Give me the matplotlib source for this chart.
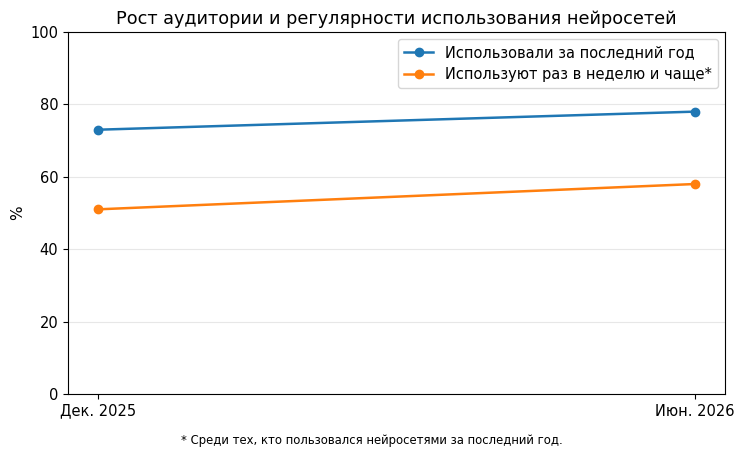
import matplotlib
matplotlib.use("Agg")
import matplotlib.pyplot as plt

plt.rcParams["font.family"] = ["DejaVu Sans"]

periods = ["Дек. 2025", "Июн. 2026"]
used_year = [73, 78]
used_weekly = [51, 58]

fig = plt.figure(figsize=(7.44, 4.57), dpi=100)
ax = fig.add_axes([0.0914, 0.138, 0.883, 0.792])

x = range(len(periods))
ax.plot(x, used_year, marker="o", color="#1f77b4", linewidth=1.8, label="Использовали за последний год")
ax.plot(x, used_weekly, marker="o", color="#ff7f0e", linewidth=1.8, label="Используют раз в неделю и чаще*")

ax.set_xticks(list(x))
ax.set_xticklabels(periods, fontsize=10.5)
ax.tick_params(axis="y", labelsize=10.5)
ax.set_ylim(0, 100)
ax.set_ylabel("%", fontsize=11)
ax.set_title("Рост аудитории и регулярности использования нейросетей", fontsize=12.7)
ax.grid(axis="y", alpha=0.3)
ax.legend(loc="upper right", fontsize=10.5)

fig.text(0.5, 0.028, "* Среди тех, кто пользовался нейросетями за последний год.", ha="center", fontsize=8.4)

fig.savefig("out.png", dpi=100)
